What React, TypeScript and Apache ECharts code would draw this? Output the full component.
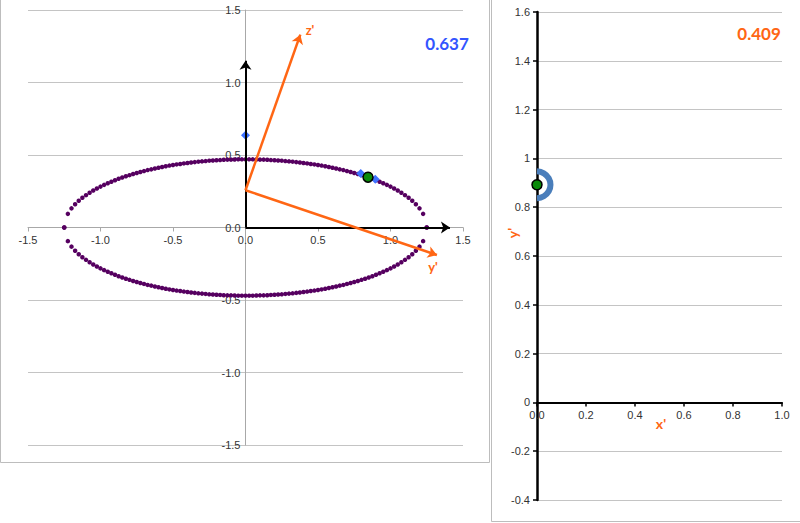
import { useEffect, useRef } from "react";
import * as echarts from "echarts";

// ---- data ----
const ELLIPSE_X = [
  -1.25, -1.225, -1.2, -1.175, -1.15, -1.125, -1.1, -1.075, -1.05, -1.025,
  -1, -0.975, -0.95, -0.925, -0.9, -0.875, -0.85, -0.825, -0.8, -0.775,
  -0.75, -0.725, -0.7, -0.675, -0.65, -0.625, -0.6, -0.575, -0.55, -0.525,
  -0.5, -0.475, -0.45, -0.425, -0.4, -0.375, -0.35, -0.325, -0.3, -0.275,
  -0.25, -0.225, -0.2, -0.175, -0.15, -0.125, -0.1, -0.075, -0.05, -0.025,
  0,
  0.025, 0.05, 0.075, 0.1, 0.125, 0.15, 0.175, 0.2, 0.225, 0.25,
  0.275, 0.3, 0.325, 0.35, 0.375, 0.4, 0.425, 0.45, 0.475, 0.5,
  0.525, 0.55, 0.575, 0.6, 0.625, 0.65, 0.675, 0.7, 0.725, 0.75,
  0.775, 0.8, 0.825, 0.85, 0.875, 0.9, 0.925, 0.95, 0.975, 1,
  1.025, 1.05, 1.075, 1.1, 1.125, 1.15, 1.175, 1.2, 1.225, 1.25,
];
const ELLIPSE_UPPER_Y = [
  0, 0.094, 0.132, 0.16, 0.184, 0.205, 0.223, 0.24, 0.255, 0.269,
  0.282, 0.294, 0.305, 0.316, 0.326, 0.336, 0.345, 0.353, 0.361, 0.369,
  0.376, 0.383, 0.389, 0.396, 0.401, 0.407, 0.412, 0.417, 0.422, 0.427,
  0.431, 0.435, 0.438, 0.442, 0.445, 0.448, 0.451, 0.454, 0.456, 0.458,
  0.461, 0.462, 0.464, 0.465, 0.467, 0.468, 0.468, 0.469, 0.47, 0.47,
  0.47,
  0.47, 0.47, 0.469, 0.468, 0.468, 0.467, 0.465, 0.464, 0.462, 0.461,
  0.458, 0.456, 0.454, 0.451, 0.448, 0.445, 0.442, 0.438, 0.435, 0.431,
  0.427, 0.422, 0.417, 0.412, 0.407, 0.401, 0.396, 0.389, 0.383, 0.376,
  0.369, 0.361, 0.353, 0.345, 0.336, 0.326, 0.316, 0.305, 0.294, 0.282,
  0.269, 0.255, 0.24, 0.223, 0.205, 0.184, 0.16, 0.132, 0.094, 0,
];
const ELLIPSE_LOWER_Y = [
  0, -0.094, -0.132, -0.16, -0.184, -0.205, -0.223, -0.24, -0.255, -0.269,
  -0.282, -0.294, -0.305, -0.316, -0.326, -0.336, -0.345, -0.353, -0.361, -0.369,
  -0.376, -0.383, -0.389, -0.396, -0.401, -0.407, -0.412, -0.417, -0.422, -0.427,
  -0.431, -0.435, -0.438, -0.442, -0.445, -0.448, -0.451, -0.454, -0.456, -0.458,
  -0.461, -0.462, -0.464, -0.465, -0.467, -0.468, -0.468, -0.469, -0.47, -0.47,
  -0.47,
  -0.47, -0.47, -0.469, -0.468, -0.468, -0.467, -0.465, -0.464, -0.462, -0.461,
  -0.458, -0.456, -0.454, -0.451, -0.448, -0.445, -0.442, -0.438, -0.435, -0.431,
  -0.427, -0.422, -0.417, -0.412, -0.407, -0.401, -0.396, -0.389, -0.383, -0.376,
  -0.369, -0.361, -0.353, -0.345, -0.336, -0.326, -0.316, -0.305, -0.294, -0.282,
  -0.269, -0.255, -0.24, -0.223, -0.205, -0.184, -0.16, -0.132, -0.094, 0,
];
const DIAMOND_X = [0, 0.795, 0.895];
const DIAMOND_Y = [0.637, 0.372, 0.333];
const GREEN_LEFT = [0.845, 0.347];
const GREEN_RIGHT = [0, 0.892];
const ARC_X = [0, 0.028, 0.048, 0.055, 0.048, 0.028, 0];
const ARC_Y = [0.947, 0.939, 0.919, 0.892, 0.865, 0.845, 0.837];
const AXIS_ORIGIN = [0, 0];
const VERTICAL_AXIS_END = [0, 1.15];
const HORIZONTAL_AXIS_END = [1.41, 0];
const PRIME_ORIGIN = [0, 0.257];
const Z_PRIME_END = [0.378, 1.33];
const Y_PRIME_END = [1.32, -0.19];
const LEFT_VALUE = "0.637";
const RIGHT_VALUE = "0.409";
const LABEL_Z = "z'";
const LABEL_Y = "y'";
const LABEL_X = "x'";

const ORANGE = "#FF6614";
const BLUE = "#3355FF";
const GRID_GRAY = "#c4c4c4";
const LABEL_FONT = "Liberation Sans";

// grid geometry (pixels)
const L_GRID = { left: 28, top: 10, width: 435, height: 435 };
const R_GRID = { left: 537, top: 12, width: 245, height: 488 };
const L_MIN = -1.5, L_MAX = 1.5;
const R_XMIN = 0, R_XMAX = 1, R_YMIN = -0.4, R_YMAX = 1.6;

export default function App() {
  const ref = useRef<HTMLDivElement>(null);

  useEffect(() => {
    if (!ref.current) return;
    const chart = echarts.init(ref.current, undefined, { renderer: "svg" });

    const ellipseData: number[][] = [];
    ELLIPSE_X.forEach((x, i) => ellipseData.push([x, ELLIPSE_UPPER_Y[i]]));
    ELLIPSE_X.forEach((x, i) => ellipseData.push([x, ELLIPSE_LOWER_Y[i]]));
    const diamonds = DIAMOND_X.map((x, i) => [x, DIAMOND_Y[i]]);
    const arc = ARC_X.map((x, i) => [x, ARC_Y[i]]);

    const fmt1 = (v: number) => v.toFixed(1);
    const axisLabel = { fontFamily: LABEL_FONT, fontSize: 11, color: "#333" };

    // offsets that place each axis on the other axis' zero
    const lXOffset = -(L_GRID.height * (0 - L_MIN)) / (L_MAX - L_MIN);
    const lYOffset = -(L_GRID.width * (0 - L_MIN)) / (L_MAX - L_MIN);
    const rXOffset = -(R_GRID.height * (0 - R_YMIN)) / (R_YMAX - R_YMIN);

    const arrowLine = (from: number[], to: number[], color: string, width: number) => [
      { coord: from, lineStyle: { color, width, type: "solid" } },
      { coord: to },
    ];

    const option: any = {
      animation: false,
      backgroundColor: "#fff",
      grid: [
        { ...L_GRID, outerBoundsMode: "none" },
        { ...R_GRID, outerBoundsMode: "none" },
      ],
      xAxis: [
        {
          gridIndex: 0,
          type: "value",
          min: L_MIN,
          max: L_MAX,
          interval: 0.5,
          position: "bottom",
          offset: lXOffset,
          axisLine: { onZero: false, lineStyle: { color: "#a8a8a8", width: 1 } },
          axisTick: { show: true, length: 4, lineStyle: { color: "#a8a8a8" } },
          axisLabel: { ...axisLabel, formatter: fmt1, margin: 7 },
          splitLine: { show: false },
        },
        {
          gridIndex: 1,
          type: "value",
          min: R_XMIN,
          max: R_XMAX,
          interval: 0.2,
          position: "bottom",
          offset: rXOffset,
          axisLine: { onZero: false, lineStyle: { color: "#000", width: 2 } },
          axisTick: { show: true, length: 4, lineStyle: { color: "#000", width: 1.5 } },
          axisLabel: { ...axisLabel, formatter: fmt1, margin: 7 },
          splitLine: { show: false },
        },
      ],
      yAxis: [
        {
          gridIndex: 0,
          type: "value",
          min: L_MIN,
          max: L_MAX,
          interval: 0.5,
          position: "left",
          offset: lYOffset,
          axisLine: { show: true, onZero: false, lineStyle: { color: "#a8a8a8", width: 1 } },
          axisTick: { show: false },
          axisLabel: { ...axisLabel, formatter: fmt1, margin: 5 },
          splitLine: { show: true, lineStyle: { color: GRID_GRAY, width: 1 } },
        },
        {
          gridIndex: 1,
          type: "value",
          min: R_YMIN,
          max: R_YMAX,
          interval: 0.2,
          position: "left",
          axisLine: { show: true, onZero: false, lineStyle: { color: "#000", width: 2.5 } },
          axisTick: { show: true, length: 4, lineStyle: { color: "#000", width: 1.5 } },
          axisLabel: { ...axisLabel, margin: 7 },
          splitLine: { show: true, lineStyle: { color: GRID_GRAY, width: 1 } },
        },
      ],
      series: [
        {
          type: "scatter",
          xAxisIndex: 0,
          yAxisIndex: 0,
          data: [],
          silent: true,
          markLine: {
            silent: true,
            symbol: ["none", "arrow"],
            symbolSize: 9,
            label: { show: false },
            data: [
              arrowLine(AXIS_ORIGIN, VERTICAL_AXIS_END, "#000", 2),
              arrowLine(AXIS_ORIGIN, HORIZONTAL_AXIS_END, "#000", 2),
            ],
          },
        },
        {
          type: "scatter",
          xAxisIndex: 0,
          yAxisIndex: 0,
          data: ellipseData,
          symbolSize: 4.5,
          itemStyle: { color: "#560060", opacity: 1 },
          silent: true,
        },
        {
          type: "scatter",
          xAxisIndex: 0,
          yAxisIndex: 0,
          data: [],
          silent: true,
          markLine: {
            silent: true,
            symbol: ["none", "arrow"],
            symbolSize: 9,
            label: { show: false },
            data: [
              arrowLine(PRIME_ORIGIN, Z_PRIME_END, ORANGE, 2.5),
              arrowLine(PRIME_ORIGIN, Y_PRIME_END, ORANGE, 2.5),
            ],
          },
        },
        {
          type: "scatter",
          xAxisIndex: 0,
          yAxisIndex: 0,
          data: diamonds,
          symbol: "diamond",
          symbolSize: 9,
          itemStyle: { color: "#3f72ff", opacity: 1 },
          silent: true,
        },
        {
          type: "scatter",
          xAxisIndex: 0,
          yAxisIndex: 0,
          data: [GREEN_LEFT],
          symbolSize: 10,
          itemStyle: { color: "#0a8a0a", borderColor: "#000", borderWidth: 1.5, opacity: 1 },
          silent: true,
        },
        {
          type: "line",
          xAxisIndex: 1,
          yAxisIndex: 1,
          data: arc,
          smooth: true,
          showSymbol: false,
          symbol: "none",
          clip: false,
          lineStyle: { color: "#4a7ebb", width: 6 },
          silent: true,
        },
        {
          type: "scatter",
          xAxisIndex: 1,
          yAxisIndex: 1,
          data: [GREEN_RIGHT],
          symbolSize: 10,
          clip: false,
          itemStyle: { color: "#0a8a0a", borderColor: "#000", borderWidth: 1.5, opacity: 1 },
          silent: true,
        },
      ],
      graphic: [
        {
          type: "rect",
          silent: true,
          shape: { x: 0.5, y: -2, width: 489, height: 464.5 },
          style: { fill: "none", stroke: "#bdbdbd", lineWidth: 1 },
          z: -1,
        },
        {
          type: "rect",
          silent: true,
          shape: { x: 491.5, y: -2, width: 310, height: 523.5 },
          style: { fill: "none", stroke: "#bdbdbd", lineWidth: 1 },
          z: -1,
        },
        {
          type: "text",
          x: 447,
          y: 43,
          style: {
            text: LEFT_VALUE,
            fill: BLUE,
            font: "bold 17px Lato",
            align: "center",
            verticalAlign: "middle",
          },
        },
        {
          type: "text",
          x: 759,
          y: 33,
          style: {
            text: RIGHT_VALUE,
            fill: ORANGE,
            font: "bold 17px Lato",
            align: "center",
            verticalAlign: "middle",
          },
        },
        {
          type: "text",
          x: 310,
          y: 30,
          style: { text: LABEL_Z, fill: ORANGE, font: "bold 13px Lato", align: "center", verticalAlign: "middle" },
        },
        {
          type: "text",
          x: 433,
          y: 267,
          style: { text: LABEL_Y, fill: ORANGE, font: "bold 13px Lato", align: "center", verticalAlign: "middle" },
        },
        {
          type: "text",
          x: 661,
          y: 423,
          style: { text: LABEL_X, fill: ORANGE, font: "bold 14px Lato", align: "center", verticalAlign: "middle" },
        },
        {
          type: "text",
          x: 512,
          y: 233,
          rotation: Math.PI / 2,
          style: { text: LABEL_Y, fill: ORANGE, font: "bold 14px Lato", align: "center", verticalAlign: "middle" },
        },
      ],
    };

    chart.setOption(option);
    return () => chart.dispose();
  }, []);

  return (
    <div
      ref={ref}
      style={{ position: "absolute", left: 0, top: 0, width: 800, height: 523, background: "#fff" }}
    />
  );
}
